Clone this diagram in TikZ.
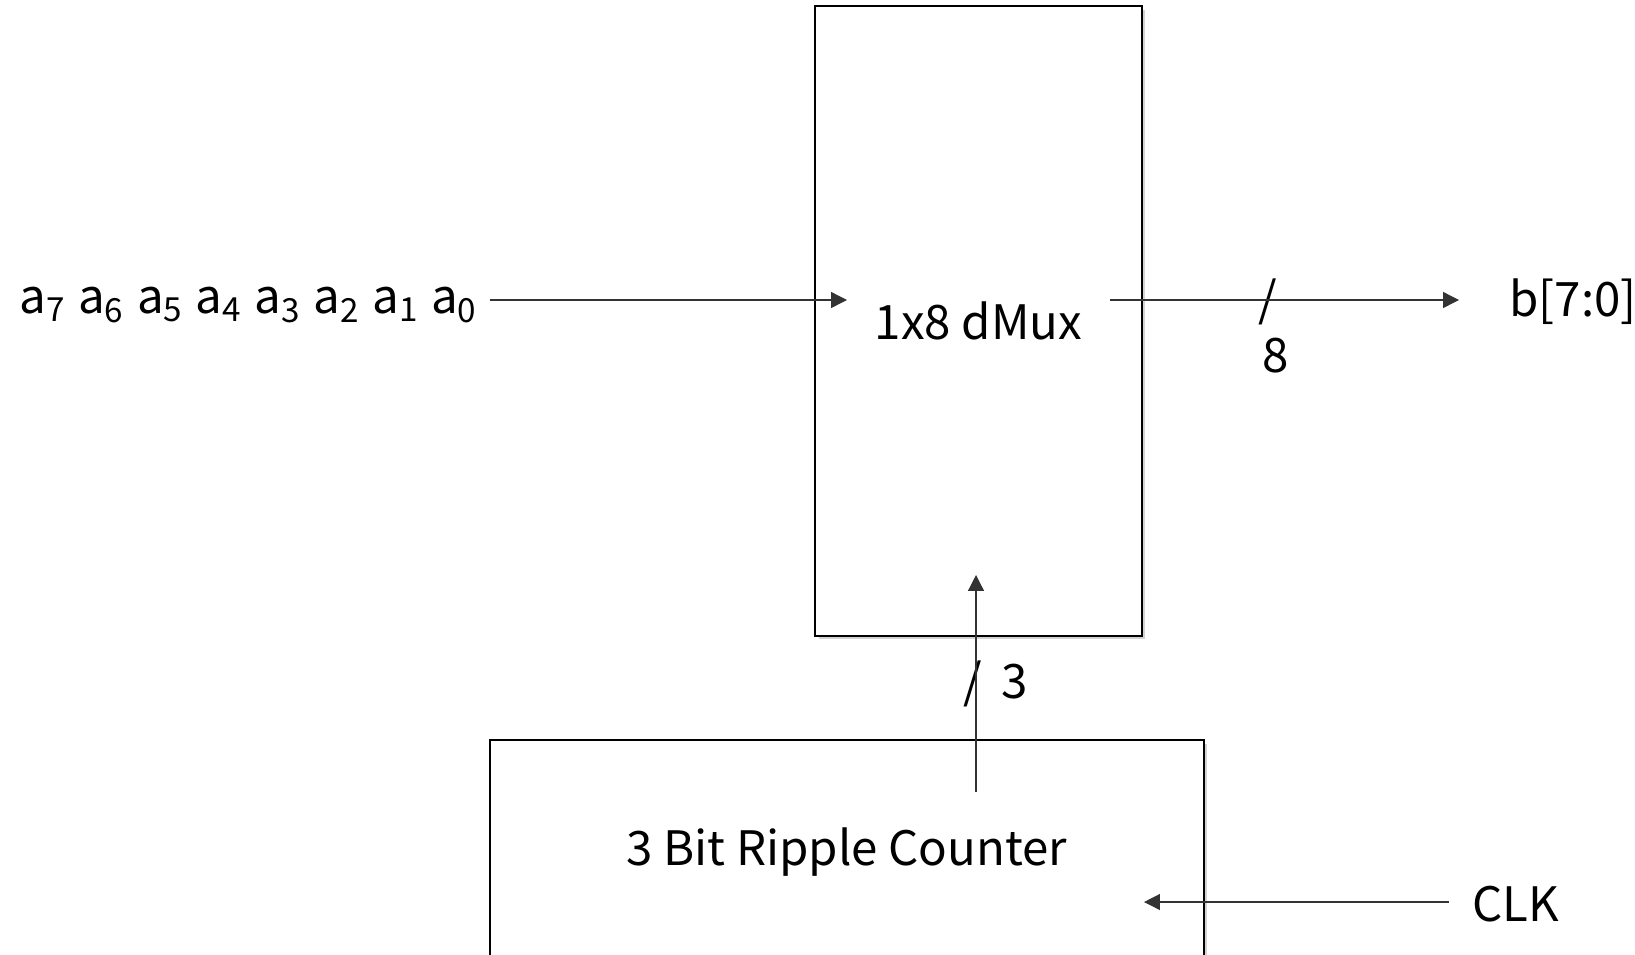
\documentclass[tikz,border=0pt]{standalone}
\usepackage{fontspec}
\setmainfont{Noto Sans CJK KR}
\usetikzlibrary{arrows.meta,positioning,shadows}

\begin{document}
\begin{tikzpicture}[x=0.02cm,y=-0.02cm,>={Triangle[length=9pt,width=9pt]},
  block/.style={draw=black,line width=1.6pt,fill=white,
    drop shadow={shadow xshift=2pt,shadow yshift=-2pt,opacity=0.35}},
  wire/.style={line width=0.75pt,draw=black!80},
  lbl/.style={font=\fontsize{27}{32}\selectfont,inner sep=0pt}]
\useasboundingbox (0,0) rectangle (1635,954);
\clip (0,0) rectangle (1635,954);
% the two blocks
\node[block,lbl,minimum width=6.54cm,minimum height=12.6cm] (dmux) at (978.5,321) {1x8 dMux};
\node[block,lbl,minimum width=14.28cm,minimum height=4.48cm] (counter) at (847,852) {3 Bit Ripple Counter};
% end points that sit inside the blocks
\coordinate (din) at (847,300);
\coordinate (dout) at (1110,300);
\coordinate (selA) at (976,792);
\coordinate (selB) at (976,575);
\coordinate (clkin) at (1144,902);
% labels
\node[lbl,anchor=base west,inner xsep=0.24cm] (ain) at (7,313)
  {a\textsubscript{7}\hspace{7.3pt}a\textsubscript{6}\hspace{7.3pt}a\textsubscript{5}\hspace{7.3pt}a\textsubscript{4}\hspace{7.3pt}a\textsubscript{3}\hspace{7.3pt}a\textsubscript{2}\hspace{7.3pt}a\textsubscript{1}\hspace{7.3pt}a\textsubscript{0}};
\node[lbl,anchor=base west,inner xsep=1.0cm] (bout) at (1459,316) {b[7:0]};
\node[lbl,anchor=base west,inner xsep=0.46cm] (clk) at (1449,921) {CLK};
\node[lbl] (slash8) at (1268,302) {/};
\node[lbl,anchor=base] (w8) at (1276,372) {8};
\node[lbl,anchor=base west] (w3) at (963,698) {/\hspace{0.42em}3};
% wires
\draw[wire,->] (ain.east |- din) -- (din);
\draw[wire,->] (dout) -- (bout.west |- dout);
\draw[wire,->] (selA) -- (selB);
\draw[wire,->] (clk.west |- clkin) -- (clkin);
\end{tikzpicture}
\end{document}
